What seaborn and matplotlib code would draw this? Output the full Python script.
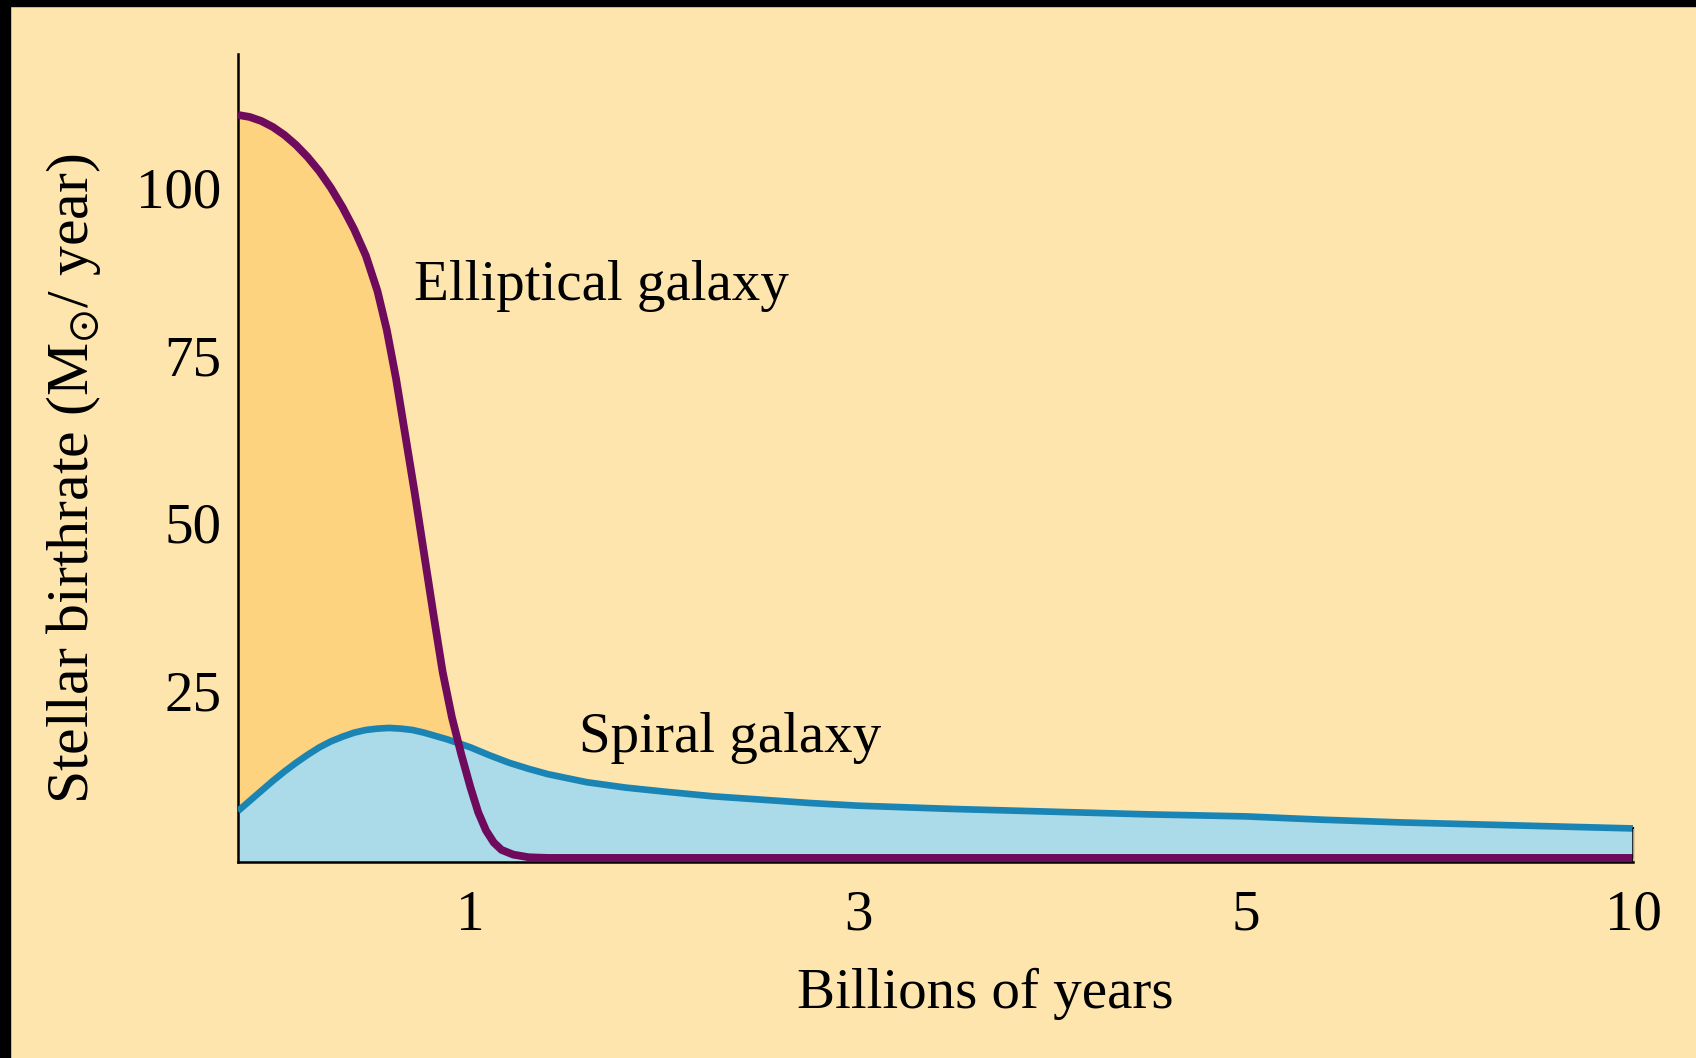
import matplotlib
matplotlib.use("Agg")
import matplotlib.pyplot as plt
from matplotlib.patches import Rectangle
import numpy as np
import pandas as pd
import seaborn as sns

# values (billions of years, solar masses per year)
elliptical_t = [0.0, 0.05, 0.10, 0.15, 0.20, 0.25, 0.30, 0.35, 0.40, 0.45, 0.50, 0.55,
                0.60, 0.64, 0.68, 0.72, 0.76, 0.80, 0.84, 0.88, 0.92, 0.96, 1.00, 1.04,
                1.08, 1.12, 1.16, 1.22, 1.30, 1.40, 2.0, 3.0, 5.0, 10.0]
elliptical_rate = [110.9, 110.6, 110.0, 109.1, 107.9, 106.4, 104.6, 102.5, 100.0, 97.1,
                   93.8, 89.9, 84.6, 78.8, 71.5, 63.0, 54.5, 45.5, 36.5, 27.8, 21.0,
                   15.5, 10.5, 6.8, 4.1, 2.3, 1.2, 0.5, 0.1, 0.0, 0.0, 0.0, 0.0, 0.0]

spiral_t = [0.0, 0.05, 0.10, 0.15, 0.20, 0.25, 0.30, 0.35, 0.40, 0.45, 0.50, 0.55,
            0.60, 0.65, 0.70, 0.75, 0.80, 0.85, 0.90, 0.95, 1.00, 1.10, 1.20, 1.30,
            1.40, 1.50, 1.60, 1.80, 2.00, 2.25, 2.50, 2.75, 3.00, 3.50, 4.00, 4.50,
            5.00, 6.00, 7.00, 8.00, 9.00, 10.0]
spiral_rate = [7.0, 8.5, 10.0, 11.5, 12.9, 14.2, 15.4, 16.5, 17.4, 18.1, 18.7, 19.1,
               19.3, 19.4, 19.3, 19.1, 18.7, 18.2, 17.7, 17.1, 16.5, 15.3, 14.2, 13.3,
               12.5, 11.9, 11.3, 10.5, 9.9, 9.2, 8.7, 8.2, 7.8, 7.3, 6.9, 6.5,
               6.2, 5.7, 5.3, 5.0, 4.7, 4.4]

x_ticks = [1, 3, 5, 10]
y_ticks = [25, 50, 75, 100]

# the time axis is stretched piecewise: 0-1 wide, 1-5 even, 5-10 compressed
scale_breaks = [0, 1, 5, 10]
scale_pos = [0, 0.6, 2.6, 3.6]

bg = "#fee5ad"
purple = "#6e0b5c"
blue = "#1a85b5"

sns.set_theme(style="white")
plt.rcParams["font.family"] = ["Liberation Serif", "DejaVu Serif"]
plt.rcParams["mathtext.fontset"] = "stix"

df_ell = pd.DataFrame({"t": elliptical_t, "rate": elliptical_rate})
df_spi = pd.DataFrame({"t": spiral_t, "rate": spiral_rate})

fig = plt.figure(figsize=(16.96, 10.58), dpi=100, facecolor=bg)
ax = fig.add_axes([0.1403, 0.1853, 0.963 - 0.1403, 0.949 - 0.1853])
ax.set_facecolor(bg)

ax.set_xscale("function", functions=(lambda x: np.interp(x, scale_breaks, scale_pos),
                                     lambda p: np.interp(p, scale_pos, scale_breaks)))
ymin = -0.6

# fills
ax.fill_between(df_ell["t"], ymin, df_ell["rate"], color="#fdd37f", lw=0, zorder=1)
ax.fill_between(df_spi["t"], ymin, df_spi["rate"], color="#abdbe8", lw=0, zorder=2)

sns.lineplot(data=df_spi, x="t", y="rate", ax=ax, color=blue, lw=4.8, zorder=3,
             sort=False, estimator=None, solid_joinstyle="round", solid_capstyle="butt")
sns.lineplot(data=df_ell, x="t", y="rate", ax=ax, color=purple, lw=5.6, zorder=4,
             sort=False, estimator=None, solid_joinstyle="round", solid_capstyle="butt")
# right edge of the spiral fill
ax.plot([spiral_t[-1], spiral_t[-1]], [ymin, spiral_rate[-1]], color="black", lw=1.8, zorder=5)

ax.set_xlim(0, 10)
ax.set_ylim(ymin, 120)
ax.set_xticks(x_ticks)
ax.set_xticklabels([str(v) for v in x_ticks])
ax.set_yticks(y_ticks)
ax.set_yticklabels([str(v) for v in y_ticks])
ax.tick_params(axis="x", direction="in", length=25, width=1.6, color="black",
               pad=20, labelsize=41, labelcolor="black", bottom=True)
ax.tick_params(axis="y", direction="in", length=29, width=1.6, color="black",
               pad=12, labelsize=41, labelcolor="black", left=True)

for s in ["top", "right"]:
    ax.spines[s].set_visible(False)
for s in ["left", "bottom"]:
    ax.spines[s].set_color("black")
    ax.spines[s].set_linewidth(1.8)

ax.set_xlabel("Billions of years", fontsize=41, color="black")
ax.set_ylabel(r"Stellar birthrate (M$_{\odot}$/ year)", fontsize=43, color="black")
ax.xaxis.set_label_coords(0.5355, -0.131)
ax.yaxis.set_label_coords(-0.097, 0.474)

ax.text(0.126, 0.696, "Elliptical galaxy", transform=ax.transAxes, fontsize=41,
        color="black", va="baseline", ha="left")
ax.text(0.2444, 0.1365, "Spiral galaxy", transform=ax.transAxes, fontsize=41,
        color="black", va="baseline", ha="left")

# dark edges of the scanned page
fig.add_artist(Rectangle((0, 1 - 6 / 1058), 1, 6 / 1058, transform=fig.transFigure,
                         color="black", zorder=10))
fig.add_artist(Rectangle((0, 0), 10 / 1696, 1, transform=fig.transFigure,
                         color="black", zorder=10))

fig.savefig("out.png", dpi=100, facecolor=bg)
